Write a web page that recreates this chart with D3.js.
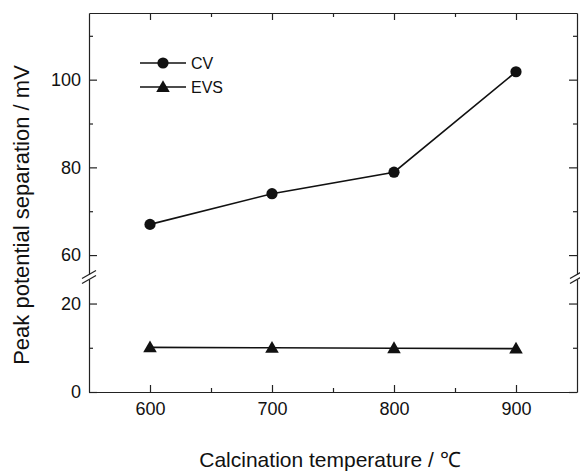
<!DOCTYPE html>
<html>
<head>
<meta charset="utf-8">
<script src="https://cdn.jsdelivr.net/npm/d3@7"></script>
<style>
  html, body { margin: 0; padding: 0; background: #fff; }
  svg { display: block; font-family: "Liberation Sans", Arial, sans-serif; }
</style>
</head>
<body>
<svg id="chart" width="580" height="472"></svg>
<script>
// 数据
const temperatures = [600, 700, 800, 900];
const cvValues = [67, 74, 78.9, 101.8];
const evsValues = [10.1, 10.0, 9.9, 9.8];
const xTickLabels = [600, 700, 800, 900];
const xMinorTicks = [650, 750, 850];
const yUpperTicks = [60, 80, 100];
const yUpperMinor = [70, 90, 110];
const yLowerTicks = [0, 20];
const yLowerMinor = [10];
const seriesNames = ["CV", "EVS"];

const svg = d3.select("#chart");
const FONT = '"Liberation Sans", Arial, sans-serif';

// 绘图区
const plot = {left: 89, right: 577, top: 13, bottom: 392, brk: 277};

// 比例尺
const x = d3.scaleLinear().domain([550, 950]).range([plot.left, plot.right]);
const yLow = d3.scaleLinear().domain([0, 26]).range([plot.bottom, plot.brk]);
const yUp = d3.scaleLinear().domain([55, 115.2]).range([plot.brk, plot.top]);
const yOf = v => v >= 40 ? yUp(v) : yLow(v);

const majorLen = 8, minorLen = 4;

function addAxis(gen, ticks, size, pad, fmt, tx, ty) {
    const g = svg.append("g")
        .attr("transform", `translate(${tx},${ty})`)
        .call(gen.tickValues(ticks).tickSizeInner(size).tickSizeOuter(0).tickPadding(pad).tickFormat(fmt));
    g.attr("font-size", null).attr("font-family", null);
    g.selectAll("line, path").attr("stroke", "#222").attr("stroke-width", 1.2);
    g.selectAll("text").attr("fill", "#111").style("font-size", "18px").style("font-family", FONT);
    g.selectAll("text").filter(function () { return this.textContent === ""; }).remove();
    return g;
}

// x 轴 (底部 / 顶部)
addAxis(d3.axisBottom(x), xTickLabels, -7, 10, d3.format("d"), 0, plot.bottom);
addAxis(d3.axisBottom(x), xMinorTicks, -4, 10, () => "", 0, plot.bottom).select(".domain").remove();
addAxis(d3.axisTop(x), xTickLabels, -7, 5, () => "", 0, plot.top);
addAxis(d3.axisTop(x), xMinorTicks, -4, 5, () => "", 0, plot.top).select(".domain").remove();

// y 轴 (左 / 右), 上下两段
[[yLow, yLowerTicks, yLowerMinor], [yUp, yUpperTicks, yUpperMinor]].forEach(([s, major, minor]) => {
    addAxis(d3.axisLeft(s), major, -majorLen, 8, d3.format("d"), plot.left, 0);
    addAxis(d3.axisLeft(s), minor, -minorLen, 8, () => "", plot.left, 0).select(".domain").remove();
    addAxis(d3.axisRight(s), major, -majorLen, 8, () => "", plot.right, 0);
    addAxis(d3.axisRight(s), minor, -minorLen, 8, () => "", plot.right, 0).select(".domain").remove();
});

// 断轴标记
[plot.left, plot.right].forEach(ax => {
    svg.append("rect").attr("x", ax - 3).attr("y", plot.brk - 2.5).attr("width", 6).attr("height", 5).attr("fill", "#fff");
    [-2.5, 2.5].forEach(off => {
        svg.append("line")
            .attr("x1", ax - 7).attr("y1", plot.brk + off + 4)
            .attr("x2", ax + 7).attr("y2", plot.brk + off - 4)
            .attr("stroke", "#222").attr("stroke-width", 1.3);
    });
});

// 数据线
const line = d3.line().x(d => x(d[0])).y(d => yOf(d[1]));
const cvData = temperatures.map((t, i) => [t, cvValues[i]]);
const evsData = temperatures.map((t, i) => [t, evsValues[i]]);

svg.append("path").datum(cvData).attr("d", line)
    .attr("fill", "none").attr("stroke", "#111").attr("stroke-width", 1.6);
svg.append("path").datum(evsData).attr("d", line)
    .attr("fill", "none").attr("stroke", "#111").attr("stroke-width", 1.6);

const tri = d3.symbol().type(d3.symbolTriangle).size(80);

svg.append("g").selectAll("circle").data(cvData).enter().append("circle")
    .attr("cx", d => x(d[0])).attr("cy", d => yOf(d[1])).attr("r", 5.6).attr("fill", "#111");
svg.append("g").selectAll("path").data(evsData).enter().append("path")
    .attr("d", tri).attr("transform", d => `translate(${x(d[0])},${yOf(d[1]) + 1})`).attr("fill", "#111");

// 图例
const legend = svg.append("g").attr("transform", "translate(140,63)");
seriesNames.forEach((name, i) => {
    const g = legend.append("g").attr("transform", `translate(0,${i * 24})`);
    g.append("line").attr("x1", 0).attr("x2", 46).attr("y1", 0).attr("y2", 0)
        .attr("stroke", "#111").attr("stroke-width", 1.6);
    if (i === 0) g.append("circle").attr("cx", 23).attr("cy", 0).attr("r", 5.6).attr("fill", "#111");
    else g.append("path").attr("d", tri).attr("transform", "translate(23,1)").attr("fill", "#111");
    g.append("text").attr("x", 51).attr("y", 6).text(name)
        .style("font-size", "16px").attr("fill", "#111");
});

// 轴标题
svg.append("text").attr("x", 330).attr("y", 467)
    .attr("text-anchor", "middle").style("font-size", "21px").attr("fill", "#111")
    .text("Calcination temperature / \u2103");
svg.append("text").attr("transform", "translate(28.5,215) rotate(-90)")
    .attr("text-anchor", "middle").style("font-size", "22px").attr("fill", "#111")
    .text("Peak potential separation / mV");
</script>
</body>
</html>
